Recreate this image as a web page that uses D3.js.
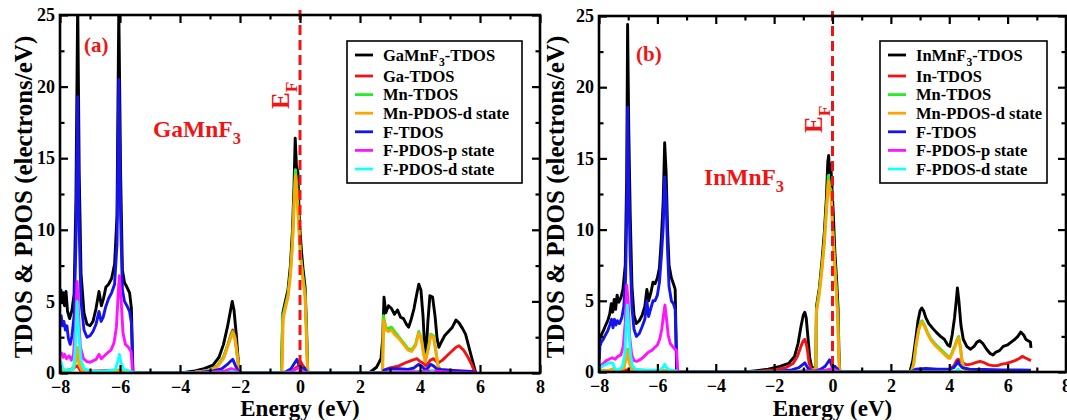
<!DOCTYPE html>
<html>
<head>
<meta charset="utf-8">
<script src="https://cdn.jsdelivr.net/npm/d3@7"></script>
<style>
  body { margin: 0; background: #fff; }
  svg text { font-family: "Liberation Serif", "DejaVu Serif", serif; font-weight: bold; }
</style>
</head>
<body>
<svg id="chart" width="1067" height="420"></svg>
<script>
// ---- data (energy in eV, DOS in electrons/eV) ----

// panel (a) GaMnF3
var gaTotal = [[-8,5.1],[-7.97,5.8],[-7.93,4.9],[-7.89,5.6],[-7.85,4.7],[-7.8,5.7],[-7.75,4.3],[-7.68,3.8],[-7.6,4.4],[-7.53,5.5],[-7.47,12],[-7.41,26],[-7.36,14],[-7.3,7],[-7.2,4.2],[-7.1,3.4],[-7.0,3.3],[-6.9,3.6],[-6.8,4.5],[-6.7,5.7],[-6.62,4.7],[-6.55,5.2],[-6.47,6.0],[-6.38,6.2],[-6.28,6.6],[-6.18,7.6],[-6.1,11],[-6.04,25.5],[-5.98,14],[-5.92,7.2],[-5.85,6.3],[-5.77,6.0],[-5.68,5.6],[-5.62,4.5],[-5.57,0],[-4.1,0],[-3.8,0.05],[-3.5,0.15],[-3.2,0.3],[-2.9,0.55],[-2.7,1.1],[-2.55,2.0],[-2.42,3.2],[-2.33,4.2],[-2.26,5.0],[-2.2,4.4],[-2.12,2.6],[-2.05,0.6],[-2.0,0],[-0.62,0],[-0.57,4.2],[-0.5,4.9],[-0.4,5.8],[-0.32,7.5],[-0.25,10],[-0.2,13],[-0.16,16.4],[-0.12,14.5],[-0.07,14.0],[-0.02,10.5],[0.05,8.5],[0.1,7.3],[0.17,6.0],[0.22,3],[0.26,0],[2.3,0],[2.55,0.4],[2.7,1.0],[2.76,2.5],[2.8,5.3],[2.86,4.2],[2.95,4.7],[3.05,4.5],[3.15,4.1],[3.25,4.4],[3.35,3.9],[3.45,3.8],[3.55,3.4],[3.62,3.2],[3.7,3.7],[3.8,4.5],[3.9,5.6],[3.96,6.2],[4.03,5.8],[4.1,4.0],[4.16,1.6],[4.2,1.1],[4.26,3.5],[4.33,5.4],[4.42,5.3],[4.5,4.0],[4.57,2.4],[4.63,1.8],[4.72,2.2],[4.82,2.6],[4.95,2.9],[5.08,3.2],[5.2,3.7],[5.3,3.5],[5.42,3.1],[5.52,2.7],[5.62,1.9],[5.72,1.1],[5.82,0.3],[5.86,0]];
var gaGa = [[-8,0.2],[-7.7,0.15],[-7.42,0.5],[-7.3,0.1],[-6.0,0.2],[-5.6,0.05],[-5.57,0],[-3.9,0],[-3.5,0.05],[-3.0,0.2],[-2.75,0.5],[-2.55,1.1],[-2.4,2.0],[-2.3,2.7],[-2.24,3.0],[-2.17,2.6],[-2.1,1.5],[-2.04,0.4],[-2.0,0],[-0.6,0],[-0.3,0.1],[-0.05,0.5],[0.02,0.8],[0.1,0.5],[0.2,0.2],[0.26,0],[2.75,0],[2.8,0.2],[3.0,0.35],[3.3,0.5],[3.55,0.75],[3.75,0.9],[3.9,1.0],[4.0,0.8],[4.1,0.7],[4.2,0.5],[4.35,0.9],[4.45,1.0],[4.6,0.7],[4.75,0.9],[4.9,1.2],[5.05,1.5],[5.2,1.8],[5.3,1.9],[5.45,1.6],[5.6,1.1],[5.72,0.6],[5.82,0.1],[5.86,0]];
var gaMn = [[-8,0.25],[-7.8,0.2],[-7.55,0.3],[-7.45,1.2],[-7.42,1.7],[-7.36,0.6],[-7.25,0.15],[-6.5,0.05],[-6.03,0.2],[-5.6,0.05],[-5.57,0],[-3.9,0],[-3.5,0.05],[-3.0,0.2],[-2.75,0.5],[-2.55,1.1],[-2.4,2.0],[-2.3,2.6],[-2.24,2.9],[-2.17,2.5],[-2.1,1.4],[-2.04,0.4],[-2.0,0],[-0.62,0],[-0.58,3.9],[-0.5,4.6],[-0.4,5.5],[-0.32,7.0],[-0.25,9.2],[-0.2,12.0],[-0.15,14.2],[-0.1,12.9],[-0.05,10.8],[0.02,8.2],[0.1,6.7],[0.17,5.5],[0.22,2.5],[0.26,0],[2.75,0],[2.78,4.0],[2.86,3.2],[2.95,3.1],[3.05,3.2],[3.15,2.9],[3.3,2.5],[3.45,2.1],[3.6,1.7],[3.72,1.6],[3.85,2.0],[3.96,2.9],[4.05,2.4],[4.12,1.4],[4.18,0.9],[4.26,1.6],[4.36,2.7],[4.45,2.6],[4.52,1.7],[4.6,0.5],[4.7,0.15],[5.0,0.05],[5.8,0.02],[5.86,0]];
var gaMnD = [[-8,0.2],[-7.8,0.15],[-7.55,0.25],[-7.45,1.3],[-7.42,1.8],[-7.36,0.6],[-7.25,0.1],[-6.5,0.05],[-6.03,0.15],[-5.6,0.03],[-5.57,0],[-3.9,0],[-3.5,0.05],[-3.0,0.18],[-2.75,0.45],[-2.55,1.0],[-2.4,1.9],[-2.3,2.5],[-2.24,2.8],[-2.17,2.4],[-2.1,1.3],[-2.04,0.35],[-2.0,0],[-0.6,0],[-0.56,3.8],[-0.5,4.4],[-0.4,5.3],[-0.32,6.8],[-0.25,9.0],[-0.2,11.5],[-0.15,13.8],[-0.1,12.5],[-0.05,10.5],[0.02,8.0],[0.1,6.5],[0.17,5.3],[0.22,2.2],[0.25,0],[2.75,0],[2.79,3.7],[2.86,3.0],[2.95,2.9],[3.05,3.0],[3.15,2.7],[3.3,2.4],[3.45,2.0],[3.6,1.6],[3.72,1.5],[3.85,1.9],[3.96,2.8],[4.05,2.3],[4.12,1.3],[4.18,0.8],[4.26,1.5],[4.36,2.6],[4.45,2.5],[4.52,1.6],[4.6,0.45],[4.7,0.1],[5.0,0.04],[5.86,0]];
var gaF = [[-8,3.4],[-7.96,4.0],[-7.92,3.3],[-7.87,3.6],[-7.82,3.0],[-7.77,3.3],[-7.72,2.4],[-7.66,2.0],[-7.6,2.6],[-7.53,4.0],[-7.47,9],[-7.41,19.3],[-7.36,10],[-7.3,5],[-7.2,3.0],[-7.1,2.5],[-7.0,2.6],[-6.9,2.9],[-6.8,3.4],[-6.7,4.3],[-6.63,3.6],[-6.56,3.9],[-6.48,4.6],[-6.38,5.2],[-6.28,5.6],[-6.18,6.2],[-6.1,9],[-6.04,20.5],[-5.98,11],[-5.92,5.8],[-5.85,5.0],[-5.77,4.7],[-5.68,4.3],[-5.62,3.5],[-5.57,0],[-3.9,0],[-3.3,0.05],[-2.9,0.15],[-2.6,0.3],[-2.42,0.6],[-2.3,0.85],[-2.24,0.95],[-2.17,0.6],[-2.08,0.2],[-2.0,0],[-0.6,0],[-0.45,0.1],[-0.3,0.3],[-0.18,0.7],[-0.1,0.95],[-0.04,0.6],[0.05,0.3],[0.15,0.35],[0.22,0.1],[0.26,0],[2.75,0],[2.8,0.2],[3.0,0.3],[3.3,0.3],[3.6,0.25],[3.8,0.35],[3.95,0.6],[4.05,0.5],[4.15,0.25],[4.25,0.3],[4.35,0.6],[4.45,0.5],[4.55,0.3],[4.7,0.25],[5.0,0.2],[5.4,0.15],[5.75,0.1],[5.86,0]];
var gaFp = [[-8,1.2],[-7.95,1.4],[-7.9,1.1],[-7.85,1.3],[-7.78,1.0],[-7.7,1.2],[-7.62,0.9],[-7.55,1.3],[-7.49,3.0],[-7.43,6.4],[-7.38,4.0],[-7.32,1.8],[-7.22,1.0],[-7.1,0.8],[-7.0,0.75],[-6.9,0.85],[-6.8,0.95],[-6.7,1.3],[-6.62,1.0],[-6.52,1.2],[-6.42,1.4],[-6.3,1.6],[-6.2,2.1],[-6.12,3.2],[-6.06,5.5],[-6.02,6.8],[-5.96,5.0],[-5.9,2.8],[-5.82,2.0],[-5.72,1.8],[-5.63,1.5],[-5.58,0],[-3.8,0],[-3.0,0.05],[-2.5,0.15],[-2.3,0.3],[-2.2,0.25],[-2.05,0.05],[-2.0,0],[-0.6,0],[-0.3,0.1],[-0.1,0.3],[-0.02,0.35],[0.1,0.1],[0.26,0],[2.75,0],[3.0,0.08],[4.0,0.1],[4.4,0.15],[5.0,0.05],[5.86,0]];
var gaFd = [[-8,0.8],[-7.96,0.75],[-7.92,0.4],[-7.85,0.2],[-7.7,0.15],[-7.55,0.3],[-7.49,1.8],[-7.43,5.0],[-7.38,3.0],[-7.3,0.9],[-7.2,0.3],[-7.0,0.15],[-6.5,0.12],[-6.15,0.25],[-6.06,0.9],[-6.02,1.3],[-5.96,0.7],[-5.88,0.25],[-5.7,0.15],[-5.58,0.05],[-5.55,0],[-2.4,0],[-2.25,0.1],[-2.1,0],[4.3,0],[4.4,0.1],[4.5,0]];

// panel (b) InMnF3
var inTotal = [[-8,0.9],[-7.97,2.3],[-7.92,2.6],[-7.85,2.9],[-7.77,3.3],[-7.7,3.6],[-7.63,4.1],[-7.58,4.8],[-7.53,4.2],[-7.48,5.1],[-7.43,4.4],[-7.38,5.4],[-7.32,4.9],[-7.25,5.2],[-7.18,5.8],[-7.1,7.5],[-7.05,14],[-7.02,24.4],[-6.98,17],[-6.93,11],[-6.87,6],[-6.8,4.0],[-6.72,3.4],[-6.62,3.6],[-6.52,4.0],[-6.43,4.6],[-6.36,5.8],[-6.3,5.0],[-6.22,5.6],[-6.15,6.3],[-6.08,6.2],[-6.0,6.6],[-5.93,7.3],[-5.86,9.5],[-5.8,12],[-5.75,16.1],[-5.7,14],[-5.65,10],[-5.6,7.5],[-5.52,6.6],[-5.45,6.2],[-5.39,5.8],[-5.34,0],[-3.0,0],[-2.6,0.1],[-2.2,0.2],[-1.8,0.4],[-1.5,0.6],[-1.3,1.1],[-1.18,2.0],[-1.08,3.2],[-1.0,4.0],[-0.95,4.2],[-0.9,3.8],[-0.84,2.4],[-0.78,1.0],[-0.72,0.4],[-0.62,0.2],[-0.57,0.2],[-0.55,4.6],[-0.45,5.9],[-0.36,7.8],[-0.28,9.8],[-0.21,12.2],[-0.16,14.8],[-0.13,15.2],[-0.1,14.0],[-0.06,14.6],[-0.02,13.0],[0.03,11],[0.08,8.5],[0.14,6.5],[0.19,4.5],[0.22,1.5],[0.25,0],[2.65,0],[2.75,0.8],[2.85,2.3],[2.93,3.6],[3.0,4.3],[3.06,4.5],[3.12,4.3],[3.2,3.8],[3.3,3.4],[3.42,3.1],[3.55,2.8],[3.7,2.5],[3.83,2.3],[3.95,1.9],[4.02,1.8],[4.1,2.6],[4.18,3.8],[4.24,5.0],[4.28,5.9],[4.33,5.0],[4.4,3.3],[4.48,2.3],[4.6,1.8],[4.72,1.6],[4.85,1.8],[4.95,2.1],[5.05,2.2],[5.15,2.0],[5.28,1.6],[5.4,1.3],[5.5,1.2],[5.6,1.4],[5.72,1.5],[5.85,1.8],[6.0,1.9],[6.12,2.1],[6.25,2.3],[6.35,2.5],[6.45,2.8],[6.55,2.6],[6.62,2.3],[6.7,2.2],[6.78,2.1],[6.8,1.7]];
var inIn = [[-8,0.05],[-7.0,0.15],[-6.0,0.1],[-5.4,0.05],[-5.34,0],[-3.0,0],[-2.5,0.05],[-2.0,0.15],[-1.6,0.3],[-1.35,0.6],[-1.2,1.1],[-1.08,1.8],[-1.0,2.2],[-0.95,2.3],[-0.9,2.0],[-0.85,1.4],[-0.8,0.6],[-0.72,0.2],[-0.6,0.1],[-0.3,0.1],[0.0,0.15],[0.2,0.05],[0.25,0],[2.7,0],[2.85,0.1],[3.5,0.15],[4.0,0.2],[4.15,0.4],[4.25,0.8],[4.3,0.9],[4.38,0.8],[4.48,0.6],[4.6,0.5],[4.75,0.55],[4.9,0.65],[5.05,0.75],[5.2,0.65],[5.35,0.5],[5.5,0.45],[5.65,0.45],[5.8,0.55],[5.95,0.6],[6.1,0.7],[6.25,0.8],[6.4,0.95],[6.5,1.1],[6.6,1.0],[6.7,0.9],[6.8,0.8]];
var inMn = [[-8,0.05],[-7.6,0.15],[-7.5,0.25],[-7.4,0.05],[-7.15,0.3],[-7.07,1.1],[-7.02,1.6],[-6.97,0.8],[-6.88,0.15],[-6.5,0.05],[-5.75,0.1],[-5.34,0],[-1.3,0],[-1.0,0.1],[-0.7,0.1],[-0.57,0.3],[-0.55,4.4],[-0.45,5.7],[-0.36,7.4],[-0.28,9.2],[-0.2,11.8],[-0.14,13.8],[-0.1,13.0],[-0.05,12.8],[0.0,10.5],[0.06,8.2],[0.12,6.2],[0.18,4.0],[0.21,1.5],[0.24,0],[2.7,0],[2.78,0.6],[2.86,1.9],[2.95,3.0],[3.02,3.5],[3.07,3.6],[3.15,3.3],[3.25,2.8],[3.38,2.3],[3.5,2.0],[3.65,1.7],[3.8,1.4],[3.95,1.1],[4.02,1.0],[4.1,1.4],[4.2,1.9],[4.27,2.3],[4.32,2.5],[4.38,1.8],[4.44,0.8],[4.5,0.3],[4.6,0.15],[5.0,0.1],[6.0,0.08],[6.8,0.06]];
var inMnD = [[-8,0.03],[-7.6,0.12],[-7.5,0.2],[-7.4,0.05],[-7.15,0.25],[-7.07,1.0],[-7.02,1.5],[-6.97,0.7],[-6.88,0.1],[-6.5,0.04],[-5.75,0.08],[-5.34,0],[-1.3,0],[-1.0,0.08],[-0.7,0.08],[-0.57,0.25],[-0.55,4.2],[-0.45,5.5],[-0.36,7.2],[-0.28,9.0],[-0.2,11.5],[-0.14,13.4],[-0.1,12.7],[-0.05,12.4],[0.0,10.2],[0.06,8.0],[0.12,6.0],[0.18,3.8],[0.21,1.4],[0.24,0],[2.7,0],[2.78,0.5],[2.86,1.8],[2.95,2.9],[3.02,3.4],[3.07,3.5],[3.15,3.2],[3.25,2.7],[3.38,2.2],[3.5,1.9],[3.65,1.6],[3.8,1.3],[3.95,1.0],[4.02,0.95],[4.1,1.3],[4.2,1.8],[4.27,2.2],[4.32,2.4],[4.38,1.7],[4.44,0.7],[4.5,0.25],[4.6,0.12],[5.0,0.08],[6.0,0.06],[6.8,0.05]];
var inF = [[-8,0.5],[-7.97,1.8],[-7.92,2.1],[-7.85,2.3],[-7.78,2.6],[-7.7,2.9],[-7.63,3.3],[-7.57,3.7],[-7.52,3.1],[-7.47,3.7],[-7.42,3.3],[-7.37,3.6],[-7.3,3.4],[-7.22,3.8],[-7.15,4.6],[-7.09,6.5],[-7.05,11],[-7.02,18.6],[-6.98,13],[-6.93,8],[-6.87,4.5],[-6.8,3.0],[-6.72,2.5],[-6.62,2.7],[-6.52,3.2],[-6.43,3.7],[-6.36,5.0],[-6.3,3.9],[-6.22,4.5],[-6.15,5.0],[-6.08,5.0],[-6.0,5.4],[-5.93,6.3],[-5.86,8.2],[-5.8,10.2],[-5.75,13.7],[-5.7,12],[-5.65,8.5],[-5.6,6.0],[-5.52,5.0],[-5.45,4.8],[-5.39,4.4],[-5.33,0],[-2.5,0],[-1.8,0.05],[-1.4,0.15],[-1.15,0.3],[-1.0,0.55],[-0.95,0.65],[-0.88,0.4],[-0.8,0.15],[-0.7,0.05],[-0.55,0.1],[-0.4,0.2],[-0.25,0.4],[-0.15,0.7],[-0.1,0.85],[-0.05,0.6],[0.0,0.3],[0.08,0.4],[0.15,0.25],[0.22,0.05],[0.25,0],[2.7,0],[2.85,0.2],[3.2,0.25],[3.6,0.2],[4.0,0.2],[4.15,0.3],[4.25,0.55],[4.3,0.75],[4.36,0.5],[4.45,0.3],[4.7,0.2],[5.2,0.18],[5.8,0.15],[6.4,0.15],[6.8,0.12]];
var inFp = [[-8,0.3],[-7.93,0.5],[-7.85,0.6],[-7.75,0.8],[-7.65,0.9],[-7.55,1.0],[-7.45,0.9],[-7.35,1.1],[-7.25,1.2],[-7.17,1.8],[-7.1,3.5],[-7.05,6.1],[-7.0,5.0],[-6.95,2.5],[-6.88,1.2],[-6.8,0.8],[-6.7,0.75],[-6.6,0.85],[-6.5,1.0],[-6.4,1.2],[-6.3,1.4],[-6.2,1.5],[-6.1,1.7],[-6.0,1.9],[-5.92,2.3],[-5.85,3.0],[-5.79,4.0],[-5.74,4.7],[-5.69,3.8],[-5.63,2.6],[-5.56,2.0],[-5.48,1.8],[-5.4,1.6],[-5.34,1.5],[-5.3,0],[-1.2,0],[-0.95,0.1],[-0.7,0.05],[-0.3,0.1],[-0.1,0.2],[0.0,0.25],[0.15,0.1],[0.25,0],[4.2,0],[4.3,0.1],[4.4,0]];
var inFd = [[-8,0.2],[-7.92,0.35],[-7.8,0.5],[-7.7,0.6],[-7.6,0.65],[-7.52,0.6],[-7.45,0.2],[-7.35,0.15],[-7.2,0.35],[-7.12,1.2],[-7.06,3.5],[-7.03,4.7],[-6.98,3.0],[-6.92,1.2],[-6.85,0.4],[-6.75,0.2],[-6.4,0.12],[-5.9,0.15],[-5.8,0.35],[-5.75,0.55],[-5.7,0.35],[-5.6,0.15],[-5.35,0.08],[-5.3,0],[4.2,0],[4.3,0.2],[4.4,0]];

var legendA = ["GaMnF_3-TDOS", "Ga-TDOS", "Mn-TDOS", "Mn-PDOS-d state", "F-TDOS", "F-PDOS-p state", "F-PDOS-d state"];
var legendB = ["InMnF_3-TDOS", "In-TDOS", "Mn-TDOS", "Mn-PDOS-d state", "F-TDOS", "F-PDOS-p state", "F-PDOS-d state"];
var seriesColors = ["#000000", "#f01414", "#22ee22", "#ffa500", "#1414f0", "#ff14ff", "#14ffff"];

var xMajor = [-8, -6, -4, -2, 0, 2, 4, 6, 8];
var xMinor = [-7, -5, -3, -1, 1, 3, 5, 7];
var yMajor = [0, 5, 10, 15, 20, 25];
var yMinor = [2.5, 7.5, 12.5, 17.5, 22.5];

var svg = d3.select("#chart");

// writes "ABF_3-xx" as text with a subscript 3
function subText(sel, str, size) {
    var parts = str.split("_");
    sel.append("tspan").text(parts[0]);
    if (parts.length > 1) {
        sel.append("tspan").attr("dy", size * 0.3).attr("font-size", size * 0.7).text(parts[1].charAt(0));
        sel.append("tspan").attr("dy", -size * 0.3).text(parts[1].slice(1));
    }
}

function drawPanel(p) {
    var x = d3.scaleLinear().domain([-8, 8]).range([p.left, p.right]);
    var y = d3.scaleLinear().domain([0, 25]).range([p.bottom, p.top]);

    var g = svg.append("g");

    g.append("clipPath").attr("id", p.id + "clip")
        .append("rect")
        .attr("x", p.left).attr("y", p.top)
        .attr("width", p.right - p.left).attr("height", p.bottom - p.top);

    var line = d3.line()
        .x(function (d) { return x(d[0]) })
        .y(function (d) { return y(d[1]) });

    g.append("g").attr("clip-path", "url(#" + p.id + "clip)")
        .selectAll("path")
        .data(p.series)
        .enter()
        .append("path")
        .attr("fill", "none")
        .attr("stroke", function (d, i) { return seriesColors[i] })
        .attr("stroke-width", 2.9)
        .attr("stroke-linejoin", "round")
        .attr("d", line);

    // Fermi level
    g.append("line")
        .attr("x1", x(0)).attr("x2", x(0))
        .attr("y1", p.top - 5).attr("y2", p.bottom)
        .attr("stroke", "#f01414")
        .attr("stroke-width", 3)
        .attr("stroke-dasharray", "10,5");

    // axes, ticks pointing inward on all four sides
    function tickAxis(make, scale, vals, size, pad) {
        return make(scale).tickValues(vals).tickSizeInner(-size).tickSizeOuter(0)
            .tickPadding(pad || 0)
            .tickFormat(pad ? d3.format("d") : "");
    }
    var axes = [
        [d3.axisBottom, x, "translate(0," + p.bottom + ")", xMajor, xMinor, 7],
        [d3.axisTop, x, "translate(0," + p.top + ")", xMajor, xMinor, 0],
        [d3.axisLeft, y, "translate(" + p.left + ",0)", yMajor, yMinor, 5],
        [d3.axisRight, y, "translate(" + p.right + ",0)", yMajor, yMinor, 0]
    ];
    axes.forEach(function (a) {
        var major = g.append("g").attr("transform", a[2]).call(tickAxis(a[0], a[1], a[3], 8, a[5]));
        var minor = g.append("g").attr("transform", a[2]).call(tickAxis(a[0], a[1], a[4], 4.5, 0));
        [major, minor].forEach(function (s) {
            s.select(".domain").remove();
            s.selectAll("line").attr("stroke", "#000").attr("stroke-width", 2.2);
            s.selectAll("text").attr("font-size", 18).attr("fill", "#000")
                .attr("font-family", "Liberation Serif").attr("font-weight", "bold");
        });
    });

    g.append("rect")
        .attr("x", p.left).attr("y", p.top)
        .attr("width", p.right - p.left).attr("height", p.bottom - p.top)
        .attr("fill", "none").attr("stroke", "#000").attr("stroke-width", 2.6);

    // axis titles
    g.append("text")
        .attr("x", (p.left + p.right) / 2).attr("y", 416)
        .attr("text-anchor", "middle").attr("font-size", 23)
        .text("Energy (eV)");
    g.append("text")
        .attr("transform", "translate(" + p.yTitleX + "," + (p.top + p.bottom + 6) / 2 + ") rotate(-90)")
        .attr("text-anchor", "middle").attr("font-size", 25)
        .text("TDOS & PDOS (electrons/eV)");

    // red annotations
    g.append("text").attr("x", p.tagX).attr("y", p.tagY)
        .attr("fill", "#f01414").attr("font-size", 21).text(p.tag);
    var comp = g.append("text").attr("x", p.nameX).attr("y", p.nameY)
        .attr("fill", "#f01414").attr("font-size", 23.5);
    subText(comp, p.name, 23.5);
    var ef = g.append("text")
        .attr("transform", "translate(" + p.efX + "," + p.efY + ") rotate(-90)")
        .attr("fill", "#f01414").attr("font-size", 25);
    subText(ef, "E_F", 25);

    // legend
    var lg = g.append("g").attr("transform", "translate(" + p.legX + "," + p.legY + ")");
    lg.append("rect").attr("width", p.legW).attr("height", 142)
        .attr("fill", "#fff").attr("stroke", "#000").attr("stroke-width", 1.6);
    var rows = lg.selectAll("g.row").data(p.legend).enter().append("g")
        .attr("transform", function (d, i) { return "translate(0," + (i == 0 ? 14 : 35 + (i - 1) * 18.6) + ")" });
    rows.append("line")
        .attr("x1", 8).attr("x2", 26)
        .attr("stroke", function (d, i) { return seriesColors[i] })
        .attr("stroke-width", 2.8);
    rows.append("text").attr("x", 36).attr("dy", "0.35em")
        .attr("font-size", 16.5)
        .each(function (d) { subText(d3.select(this), d, 16.5) });
}

drawPanel({
    id: "a", left: 60, right: 540, top: 15, bottom: 373,
    series: [gaTotal, gaGa, gaMn, gaMnD, gaF, gaFp, gaFd],
    legend: legendA, legX: 347, legY: 41, legW: 175,
    yTitleX: 32, tag: "(a)", tagX: 84, tagY: 52,
    name: "GaMnF_3", nameX: 153, nameY: 137,
    efX: 289, efY: 109
});
drawPanel({
    id: "b", left: 599, right: 1066, top: 16, bottom: 372,
    series: [inTotal, inIn, inMn, inMnD, inF, inFp, inFd],
    legend: legendB, legX: 880, legY: 41, legW: 167,
    yTitleX: 564, tag: "(b)", tagX: 636, tagY: 61,
    name: "InMnF_3", nameX: 704, nameY: 185,
    efX: 822, efY: 133
});
</script>
</body>
</html>
